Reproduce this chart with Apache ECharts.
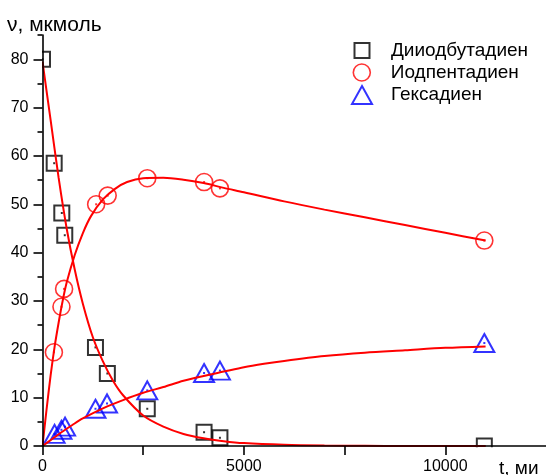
<!DOCTYPE html>
<html>
<head>
<meta charset="utf-8">
<script src="https://cdn.jsdelivr.net/npm/echarts@6/dist/echarts.min.js"></script>
<style>html,body{margin:0;padding:0;background:#fff;}#c{width:546px;height:475px;}</style>
</head>
<body>
<div id="c"></div>
<script>
// ---- tick values ----
const xTickValues = [0, 2500, 5000, 7500, 10000];
const xLabelValues = [0, 5000, 10000];
const yMajorTicks = [0, 10, 20, 30, 40, 50, 60, 70, 80];
const yMinorTicks = [5, 15, 25, 35, 45, 55, 65, 75, 85];

// ---- series names ----
const seriesNames = ['Дииодбутадиен', 'Иодпентадиен', 'Гексадиен'];

// ---- measured points ----
const tDiiod = [0, 290, 479, 553, 1315, 1610, 2601, 4011, 4405, 10969];
const vDiiod = [80.0, 58.5, 48.2, 43.6, 20.4, 15.0, 7.7, 2.85, 1.7, 0];
const tIodp = [283, 471, 536, 1332, 1618, 2601, 4012, 4405, 10969];
const vIodp = [19.4, 28.8, 32.5, 50.0, 51.8, 55.4, 54.6, 53.3, 42.5];
const tHex = [300, 470, 560, 1315, 1602, 2601, 4011, 4405, 10969];
const vHex = [2.5, 3.35, 4.0, 7.7, 8.8, 11.5, 15.1, 15.6, 21.3];

// ---- fitted curves ----
const tCurveA = [0, 200, 400, 600, 800, 1000, 1250, 1500, 1750, 2000, 2500, 3000, 3500, 4000, 4500, 5000, 6000, 7000, 8000, 9000, 10000, 11000];
const vCurveA = [79.5, 67.5, 55.5, 45.0, 36.5, 29.5, 22.5, 17.5, 13.5, 10.5, 6.3, 4.0, 2.5, 1.6, 1.0, 0.6, 0.25, 0.1, 0.05, 0, 0, 0];
const tCurveB = [0, 100, 200, 300, 400, 500, 600, 800, 1000, 1200, 1500, 1800, 2100, 2500, 3000, 3500, 4000, 4500, 5000, 6000, 7000, 8000, 9000, 10000, 11000];
const vCurveB = [0, 7.5, 14.5, 20.5, 25.5, 30.0, 33.8, 39.5, 44.0, 47.5, 51.0, 53.2, 54.6, 55.4, 55.5, 55.1, 54.4, 53.4, 52.5, 50.6, 48.9, 47.3, 45.7, 44.1, 42.5];
const tCurveC = [0, 250, 500, 750, 1000, 1500, 2000, 2500, 3000, 3500, 4000, 4500, 5000, 5500, 6000, 7000, 8000, 9000, 10000, 11000];
const vCurveC = [0, 1.5, 3.0, 4.4, 5.7, 7.8, 9.5, 11.0, 12.2, 13.5, 14.5, 15.4, 16.3, 17.0, 17.6, 18.6, 19.3, 19.8, 20.3, 20.6];

const zip = (a, b) => a.map((v, i) => [v, b[i]]);

const FONT = '"Liberation Sans", Arial, sans-serif';
const chart = echarts.init(document.getElementById('c'), null, {renderer: 'canvas'});

const axisLineStyle = {color: '#000', width: 1.6};

function legendFor(i, top, color, bw, w, h, left, padLeft) {
  return {
    data: [seriesNames[i]],
    left: left, top: top, padding: 0,
    itemWidth: w, itemHeight: h,
    textStyle: {fontFamily: FONT, fontSize: 19, color: '#000', padding: [0, 0, 0, padLeft]},
    itemStyle: {color: 'transparent', borderColor: color, borderWidth: bw},
    selectedMode: false
  };
}

const option = {
  animation: false,
  backgroundColor: '#fff',
  title: {
    text: 'ν, мкмоль', left: 2, top: 10,
    textStyle: {fontFamily: FONT, fontSize: 21, fontWeight: 'normal', color: '#000'}
  },
  legend: [
    legendFor(0, 41, '#000', 2, 15, 15, 353.5, 16.5),
    legendFor(1, 63, '#ff0000', 1.6, 17, 17, 352.5, 15.5),
    legendFor(2, 85, '#0000ff', 2, 20, 18, 351, 14)
  ],
  grid: {left: 42.5, top: 35.1, width: 508.5, height: 411.4, containLabel: false},
  xAxis: {
    type: 'value', min: 0, max: 12500, z: 10,
    axisLine: {show: true, onZero: false, lineStyle: axisLineStyle},
    axisTick: {show: true, customValues: xTickValues, length: 9, lineStyle: axisLineStyle},
    axisLabel: {customValues: xLabelValues, margin: 13, fontFamily: FONT, fontSize: 16, color: '#000', formatter: v => String(v)},
    splitLine: {show: false}
  },
  yAxis: [{
    type: 'value', min: 0, max: 85, z: 10,
    axisLine: {show: true, onZero: false, lineStyle: axisLineStyle},
    axisTick: {show: true, customValues: yMajorTicks, length: 9, lineStyle: axisLineStyle},
    axisLabel: {customValues: yMajorTicks, margin: 14, fontFamily: FONT, fontSize: 16, color: '#000', formatter: v => String(v)},
    splitLine: {show: false}
  }, {
    type: 'value', min: 0, max: 85, z: 10, position: 'left',
    axisLine: {show: false},
    axisTick: {show: true, customValues: yMinorTicks, length: 5, lineStyle: axisLineStyle},
    axisLabel: {show: false},
    splitLine: {show: false}
  }],
  graphic: [
    {type: 'rect', z: 5, shape: {x: 0, y: 30, width: 42, height: 445}, style: {fill: '#fff'}},
    {type: 'rect', z: 5, shape: {x: 0, y: 447.3, width: 546, height: 30}, style: {fill: '#fff'}},
    {type: 'text', z: 20, left: 499, top: 459, style: {text: 't, ми', font: '19px "Liberation Sans", Arial, sans-serif', fill: '#000'}}
  ],
  series: [
    {name: seriesNames[0], type: 'scatter', data: zip(tDiiod, vDiiod), symbol: 'rect', symbolSize: 15, symbolKeepAspect: true, clip: false,
     itemStyle: {color: 'transparent', borderColor: '#000', borderWidth: 2}, z: 2},
    {name: seriesNames[1], type: 'scatter', data: zip(tIodp, vIodp), symbol: 'circle', symbolSize: 17, symbolKeepAspect: true, clip: false,
     itemStyle: {color: 'transparent', borderColor: '#ff0000', borderWidth: 1.6}, z: 2},
    {name: seriesNames[2], type: 'scatter', data: zip(tHex, vHex), symbol: 'triangle', symbolSize: [20, 18], symbolKeepAspect: true, clip: false,
     itemStyle: {color: 'transparent', borderColor: '#0000ff', borderWidth: 2}, z: 2},
    {type: 'scatter', data: zip(tDiiod, vDiiod), symbol: 'rect', symbolSize: 2, itemStyle: {color: '#000'}, silent: true, z: 2, clip: false},
    {type: 'scatter', data: zip(tIodp, vIodp), symbol: 'rect', symbolSize: 2, itemStyle: {color: '#ff0000'}, silent: true, z: 2, clip: false},
    {type: 'scatter', data: zip(tHex, vHex), symbol: 'rect', symbolSize: 2, itemStyle: {color: '#0000ff'}, silent: true, z: 2, clip: false},
    {type: 'line', data: zip(tCurveA, vCurveA), smooth: 0.3, showSymbol: false, lineStyle: {color: '#ff0000', width: 2}, z: 3, silent: true},
    {type: 'line', data: zip(tCurveB, vCurveB), smooth: 0.3, showSymbol: false, lineStyle: {color: '#ff0000', width: 2}, z: 3, silent: true},
    {type: 'line', data: zip(tCurveC, vCurveC), smooth: 0.3, showSymbol: false, lineStyle: {color: '#ff0000', width: 2}, z: 3, silent: true}
  ]
};
chart.setOption(option);
</script>
</body>
</html>
